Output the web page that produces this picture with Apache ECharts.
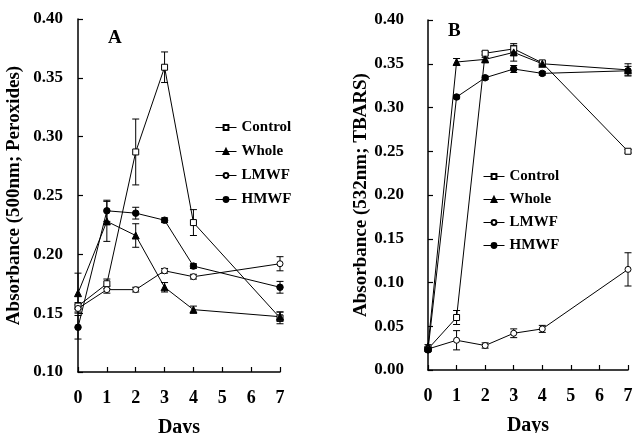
<!DOCTYPE html>
<html>
<head>
<meta charset="utf-8">
<script src="https://cdn.jsdelivr.net/npm/echarts@6/dist/echarts.min.js"></script>
<style>
html, body { margin: 0; padding: 0; background: #fff; }
#chart { width: 634px; height: 433px; }
</style>
</head>
<body>
<div id="chart"></div>
<script>
// sampling days
var days = [0, 1, 2, 3, 4, 7];
var seriesNames = ['Control', 'Whole', 'LMWF', 'HMWF'];

// panel A: peroxides (500nm)
var ctrlA = [0.156, 0.175, 0.287, 0.359, 0.227, 0.146];
var ctrlAErr = [0.003, 0.004, 0.028, 0.013, 0.011, 0.005];
var wholeA = [0.167, 0.228, 0.216, 0.172, 0.153, 0.147];
var wholeAErr = [0.017, 0.017, 0.010, 0.004, 0.003, 0.004];
var lmwfA = [0.154, 0.170, 0.170, 0.186, 0.181, 0.192];
var lmwfAErr = [0.003, 0.003, 0.002, 0.002, 0.002, 0.006];
var hmwfA = [0.138, 0.237, 0.235, 0.229, 0.190, 0.172];
var hmwfAErr = [0.010, 0.009, 0.005, 0.002, 0.002, 0.005];

// panel B: TBARS (532nm)
var ctrlB = [0.024, 0.060, 0.362, 0.367, 0.351, 0.250];
var ctrlBErr = [0.002, 0.008, 0.002, 0.004, 0.002, 0.002];
var wholeB = [0.027, 0.352, 0.355, 0.363, 0.350, 0.343];
var wholeBErr = [0.002, 0.004, 0.002, 0.010, 0.002, 0.007];
var lmwfB = [0.024, 0.034, 0.028, 0.042, 0.047, 0.115];
var lmwfBErr = [0.002, 0.011, 0.003, 0.005, 0.004, 0.019];
var hmwfB = [0.023, 0.312, 0.334, 0.344, 0.339, 0.342];
var hmwfBErr = [0.002, 0.002, 0.002, 0.004, 0.002, 0.005];

var FONT = 'Liberation Serif';
var markers = {
    Control: { symbol: 'rect', filled: false, size: 6 },
    Whole: { symbol: 'triangle', filled: true, size: 7 },
    LMWF: { symbol: 'circle', filled: false, size: 6 },
    HMWF: { symbol: 'circle', filled: true, size: 6.5 }
};

function lineSeries(name, vals, axis) {
    var m = markers[name];
    return {
        type: 'line',
        name: name,
        xAxisIndex: axis,
        yAxisIndex: axis,
        data: days.map(function (d, i) { return [d, vals[i]]; }),
        symbol: m.symbol,
        symbolSize: m.size,
        showAllSymbol: true,
        lineStyle: { color: '#000', width: 1 },
        itemStyle: { color: m.filled ? '#000' : '#fff', borderColor: '#000', borderWidth: 1 },
        z: 3
    };
}

function errSeries(vals, errs, axis) {
    return {
        type: 'custom',
        xAxisIndex: axis,
        yAxisIndex: axis,
        data: days.map(function (d, i) { return [d, vals[i] - errs[i], vals[i] + errs[i]]; }),
        renderItem: function (params, api) {
            var lo = api.coord([api.value(0), api.value(1)]);
            var hi = api.coord([api.value(0), api.value(2)]);
            var w = 3.5;
            var st = { stroke: '#000', lineWidth: 1 };
            return {
                type: 'group',
                children: [
                    { type: 'line', shape: { x1: lo[0], y1: lo[1], x2: hi[0], y2: hi[1] }, style: st },
                    { type: 'line', shape: { x1: lo[0] - w, y1: lo[1], x2: lo[0] + w, y2: lo[1] }, style: st },
                    { type: 'line', shape: { x1: hi[0] - w, y1: hi[1], x2: hi[0] + w, y2: hi[1] }, style: st }
                ]
            };
        },
        z: 2,
        silent: true
    };
}

function xAxisOpt(idx) {
    return {
        type: 'value', gridIndex: idx, min: 0, max: 7, interval: 1,
        name: 'Days', nameLocation: 'middle', nameGap: 46,
        nameTextStyle: { fontFamily: FONT, fontWeight: 'bold', fontSize: 20, color: '#000' },
        axisLine: { lineStyle: { color: '#000', width: 1.5 } },
        axisTick: { inside: true, length: 5, lineStyle: { color: '#000', width: 1.2 } },
        axisLabel: { margin: 17, fontFamily: FONT, fontWeight: 'bold', fontSize: 18, color: '#000' },
        splitLine: { show: false }
    };
}

function yAxisOpt(idx, name, min, labelMargin) {
    return {
        type: 'value', gridIndex: idx, min: min, max: 0.40, interval: 0.05,
        name: name, nameLocation: 'middle', nameGap: 54,
        nameTextStyle: { fontFamily: FONT, fontWeight: 'bold', fontSize: 19, color: '#000' },
        axisLine: { show: true, lineStyle: { color: '#000', width: 1.5 } },
        axisTick: { show: true, inside: true, length: 5, lineStyle: { color: '#000', width: 1.2 } },
        axisLabel: {
            margin: labelMargin, fontFamily: FONT, fontWeight: 'bold', fontSize: 17, color: '#000',
            formatter: function (v) { return v.toFixed(2); }
        },
        splitLine: { show: false }
    };
}

function legendOpt(left, top, gap) {
    return {
        data: seriesNames, orient: 'vertical', left: left, top: top, padding: 0,
        itemWidth: 21, itemHeight: 6, itemGap: gap,
        lineStyle: { width: 1 },
        textStyle: { fontFamily: FONT, fontWeight: 'bold', fontSize: 15, color: '#000' },
        selectedMode: false
    };
}

var chart = echarts.init(document.getElementById('chart'), null, { renderer: 'canvas' });

var series = [
    errSeries(ctrlA, ctrlAErr, 0), errSeries(wholeA, wholeAErr, 0),
    errSeries(lmwfA, lmwfAErr, 0), errSeries(hmwfA, hmwfAErr, 0),
    errSeries(ctrlB, ctrlBErr, 1), errSeries(wholeB, wholeBErr, 1),
    errSeries(lmwfB, lmwfBErr, 1), errSeries(hmwfB, hmwfBErr, 1),
    lineSeries('Control', ctrlA, 0), lineSeries('Whole', wholeA, 0),
    lineSeries('LMWF', lmwfA, 0), lineSeries('HMWF', hmwfA, 0),
    lineSeries('Control', ctrlB, 1), lineSeries('Whole', wholeB, 1),
    lineSeries('LMWF', lmwfB, 1), lineSeries('HMWF', hmwfB, 1)
];

chart.setOption({
    animation: false,
    backgroundColor: '#fff',
    grid: [
        { left: 78, top: 19, width: 202, height: 353, outerBoundsMode: 'none' },
        { left: 428, top: 20, width: 200, height: 350, outerBoundsMode: 'none' }
    ],
    xAxis: [xAxisOpt(0), xAxisOpt(1)],
    yAxis: [
        yAxisOpt(0, 'Absorbance (500nm; Peroxides)', 0.10, 15),
        yAxisOpt(1, 'Absorbance (532nm; TBARS)', 0, 24)
    ],
    legend: [legendOpt(215, 120, 9), legendOpt(483, 169, 8)],
    graphic: [
        { type: 'text', left: 108, top: 29, style: { text: 'A', font: 'bold 19px "Liberation Serif"', fill: '#000' } },
        { type: 'text', left: 448, top: 22, style: { text: 'B', font: 'bold 19px "Liberation Serif"', fill: '#000' } }
    ],
    series: series
});
</script>
</body>
</html>
